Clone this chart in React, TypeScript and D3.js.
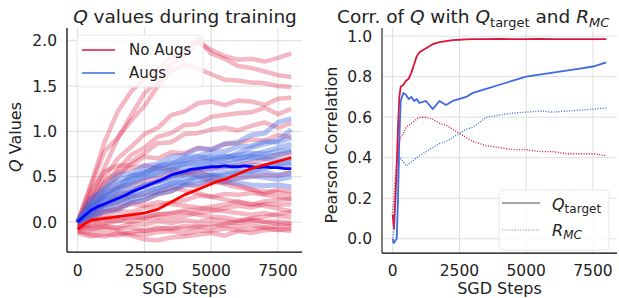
import * as d3 from "d3";

// ---- data ----
const runSteps = [0, 500, 1000, 1500, 2000, 2500, 3000, 3500, 4000, 4500, 5000, 5500, 6000, 6500, 7000, 7500, 8000];
const meanSteps = [0, 250, 500, 750, 1000, 1250, 1500, 1750, 2000, 2250, 2500, 2750, 3000, 3250, 3500, 3750, 4000,
  4250, 4500, 4750, 5000, 5250, 5500, 5750, 6000, 6250, 6500, 6750, 7000, 7250, 7500, 7750, 8000];

const noAugsRuns = [
  [0.0, 0.28, 0.6, 0.92, 1.18, 1.42, 1.56, 1.74, 1.84, 1.98, 1.9, 1.83, 1.79, 1.8, 1.77, 1.81, 1.86],
  [0.0, 0.4, 0.78, 0.93, 1.12, 1.28, 1.5, 1.66, 1.74, 1.69, 1.63, 1.57, 1.56, 1.54, 1.53, 1.5, 1.49],
  [0.0, 0.24, 0.5, 0.7, 0.83, 0.97, 1.04, 1.18, 1.22, 1.31, 1.33, 1.29, 1.34, 1.33, 1.29, 1.36, 1.37],
  [-0.02, 0.2, 0.42, 0.58, 0.74, 0.82, 0.94, 0.98, 1.07, 1.08, 1.16, 1.18, 1.2, 1.21, 1.26, 1.19, 1.25],
  [0.0, 0.16, 0.36, 0.5, 0.66, 0.76, 0.87, 0.88, 0.97, 0.98, 1.02, 1.04, 1.01, 1.06, 1.1, 1.04, 1.09],
  [0.0, 0.34, 0.56, 0.62, 0.63, 0.72, 0.7, 0.77, 0.76, 0.82, 0.8, 0.86, 0.87, 0.91, 0.9, 0.96, 0.94],
  [-0.05, 0.04, 0.12, 0.14, 0.22, 0.24, 0.31, 0.34, 0.41, 0.39, 0.46, 0.44, 0.49, 0.5, 0.52, 0.51, 0.56],
  [0.0, 0.06, 0.07, 0.12, 0.11, 0.16, 0.17, 0.22, 0.24, 0.29, 0.28, 0.31, 0.3, 0.32, 0.31, 0.36, 0.34],
  [-0.05, -0.02, 0.01, 0.01, 0.06, 0.04, 0.09, 0.09, 0.13, 0.14, 0.17, 0.19, 0.23, 0.19, 0.23, 0.24, 0.26],
  [-0.05, -0.06, -0.04, -0.06, -0.02, -0.03, 0.01, -0.01, 0.02, 0.0, 0.03, 0.01, -0.01, 0.02, 0.0, 0.01, -0.01],
  [-0.1, -0.11, -0.08, -0.1, -0.13, -0.14, -0.11, -0.1, -0.13, -0.09, -0.1, -0.07, -0.09, -0.08, -0.06, -0.09, -0.07],
  [-0.05, 0.01, 0.04, 0.06, 0.04, 0.07, 0.08, 0.1, 0.11, 0.08, 0.06, 0.05, 0.02, 0.03, 0.0, -0.02, -0.02],
  [0.0, 0.11, 0.19, 0.31, 0.34, 0.41, 0.44, 0.51, 0.53, 0.57, 0.59, 0.61, 0.63, 0.66, 0.69, 0.74, 0.76],
  [-0.1, -0.14, -0.16, -0.12, -0.15, -0.19, -0.2, -0.17, -0.16, -0.14, -0.12, -0.15, -0.1, -0.12, -0.09, -0.08, -0.1],
  [0.0, 0.16, 0.29, 0.39, 0.41, 0.46, 0.49, 0.53, 0.54, 0.56, 0.51, 0.46, 0.41, 0.36, 0.34, 0.33, 0.3],
  [0.0, 0.42, 0.88, 1.22, 1.44, 1.58, 1.68, 1.82, 1.9, 2.02, 1.86, 1.8, 1.72, 1.7, 1.66, 1.62, 1.6],
  [-0.02, 0.08, 0.18, 0.22, 0.28, 0.3, 0.33, 0.38, 0.35, 0.32, 0.28, 0.25, 0.22, 0.2, 0.18, 0.15, 0.12],
  [0.0, 0.25, 0.45, 0.55, 0.6, 0.62, 0.6, 0.58, 0.55, 0.5, 0.45, 0.42, 0.38, 0.36, 0.3, 0.28, 0.25],
  [-0.08, -0.04, -0.02, 0.02, 0.0, 0.03, 0.05, 0.04, 0.07, 0.1, 0.12, 0.15, 0.18, 0.16, 0.2, 0.19, 0.2],
  [-0.12, -0.16, -0.13, -0.15, -0.11, -0.09, -0.06, -0.08, -0.04, -0.05, -0.02, -0.04, -0.05, -0.03, -0.06, -0.04, -0.05],
  [0.0, 0.1, 0.12, 0.16, 0.2, 0.18, 0.22, 0.2, 0.18, 0.16, 0.14, 0.12, 0.1, 0.08, 0.1, 0.07, 0.05],
  [-0.06, -0.08, -0.05, -0.07, -0.06, -0.1, -0.08, -0.06, -0.08, -0.05, -0.06, -0.02, 0.01, 0.04, 0.06, 0.09, 0.11],
];

const augsRuns = [
  [0.0, 0.22, 0.38, 0.52, 0.54, 0.62, 0.64, 0.72, 0.74, 0.81, 0.8, 0.86, 0.88, 0.96, 0.98, 1.1, 1.14],
  [0.0, 0.14, 0.32, 0.38, 0.51, 0.53, 0.62, 0.64, 0.71, 0.73, 0.77, 0.78, 0.83, 0.84, 0.89, 0.88, 0.93],
  [0.0, 0.18, 0.26, 0.35, 0.42, 0.48, 0.55, 0.58, 0.65, 0.68, 0.72, 0.72, 0.74, 0.76, 0.75, 0.78, 0.8],
  [0.0, 0.1, 0.18, 0.22, 0.28, 0.32, 0.38, 0.42, 0.48, 0.5, 0.52, 0.55, 0.54, 0.56, 0.55, 0.52, 0.54],
  [0.0, 0.04, 0.11, 0.14, 0.21, 0.24, 0.31, 0.34, 0.41, 0.42, 0.46, 0.44, 0.43, 0.41, 0.4, 0.41, 0.39],
  [0.0, 0.12, 0.19, 0.26, 0.29, 0.36, 0.37, 0.43, 0.44, 0.51, 0.52, 0.49, 0.48, 0.51, 0.49, 0.47, 0.5],
  [0.0, 0.2, 0.3, 0.42, 0.47, 0.55, 0.6, 0.66, 0.68, 0.72, 0.7, 0.73, 0.7, 0.72, 0.7, 0.68, 0.7],
  [0.0, 0.16, 0.24, 0.3, 0.36, 0.4, 0.45, 0.5, 0.55, 0.6, 0.62, 0.64, 0.66, 0.7, 0.72, 0.74, 0.78],
  [0.0, 0.06, 0.14, 0.2, 0.24, 0.28, 0.33, 0.38, 0.42, 0.46, 0.5, 0.52, 0.55, 0.56, 0.6, 0.62, 0.64],
  [0.0, 0.26, 0.36, 0.46, 0.5, 0.56, 0.58, 0.62, 0.64, 0.66, 0.68, 0.7, 0.76, 0.82, 0.86, 0.9, 1.02],
  [0.0, 0.09, 0.22, 0.28, 0.33, 0.41, 0.44, 0.48, 0.52, 0.56, 0.58, 0.61, 0.6, 0.63, 0.62, 0.64, 0.66],
  [0.0, 0.15, 0.28, 0.36, 0.44, 0.5, 0.52, 0.57, 0.6, 0.62, 0.66, 0.67, 0.7, 0.74, 0.78, 0.82, 0.86],
];

const augsMean = [0.0, 0.07, 0.13, 0.17, 0.2, 0.23, 0.26, 0.29, 0.33, 0.36, 0.39, 0.42, 0.45, 0.48, 0.52, 0.54, 0.56,
  0.58, 0.59, 0.6, 0.61, 0.61, 0.62, 0.61, 0.61, 0.62, 0.61, 0.6, 0.61, 0.6, 0.6, 0.59, 0.59];
const noAugsMean = [-0.08, -0.02, 0.02, 0.03, 0.04, 0.05, 0.06, 0.07, 0.08, 0.09, 0.1, 0.12, 0.14, 0.18, 0.22, 0.26, 0.3,
  0.33, 0.36, 0.39, 0.42, 0.45, 0.47, 0.5, 0.53, 0.56, 0.59, 0.61, 0.63, 0.65, 0.67, 0.69, 0.71];

const corrSteps = [0, 50, 100, 150, 200, 250, 300, 400, 500, 600, 700, 800, 900, 1000, 1250, 1500, 1750, 2000, 2250,
  2500, 2750, 3000, 3500, 4000, 4500, 5000, 5500, 6000, 6500, 7000, 7500, 8000];
const qTargetNoAugs = [0.12, 0.05, 0.2, 0.35, 0.55, 0.7, 0.75, 0.76, 0.78, 0.79, 0.82, 0.86, 0.9, 0.92, 0.94, 0.96, 0.97,
  0.975, 0.98, 0.982, 0.984, 0.985, 0.985, 0.986, 0.985, 0.985, 0.986, 0.985, 0.985, 0.985, 0.985, 0.985];
const qTargetAugs = [0.0, -0.02, -0.01, 0.0, 0.2, 0.5, 0.68, 0.72, 0.71, 0.69, 0.7, 0.68, 0.69, 0.67, 0.68, 0.64, 0.68,
  0.66, 0.68, 0.69, 0.7, 0.72, 0.74, 0.76, 0.78, 0.8, 0.81, 0.82, 0.83, 0.84, 0.85, 0.87];
const rmcNoAugs = [0.13, 0.2, 0.3, 0.38, 0.45, 0.48, 0.5, 0.52, 0.55, 0.56, 0.57, 0.58, 0.59, 0.6, 0.6, 0.59, 0.57,
  0.56, 0.54, 0.52, 0.5, 0.48, 0.46, 0.45, 0.44, 0.44, 0.43, 0.43, 0.42, 0.42, 0.42, 0.41];
const rmcAugs = [-0.02, 0.05, 0.15, 0.25, 0.33, 0.38, 0.4, 0.38, 0.36, 0.37, 0.38, 0.39, 0.4, 0.41, 0.43, 0.45, 0.47,
  0.48, 0.5, 0.52, 0.54, 0.55, 0.6, 0.61, 0.62, 0.625, 0.63, 0.625, 0.63, 0.635, 0.64, 0.645];

const xTicks = [0, 2500, 5000, 7500];
const qTicks = [0.0, 0.5, 1.0, 1.5, 2.0];
const corrTicks = [0.0, 0.2, 0.4, 0.6, 0.8, 1.0];

const CRIMSON = "#dc143c";
const ROYAL = "#4169e1";
const FONT = "DejaVu Sans, sans-serif";

const App = () => {
  // left panel scales
  const xL = d3.scaleLinear().domain([-400, 8400]).range([67, 302]);
  const yL = d3.scaleLinear().domain([-0.33, 2.14]).range([252, 28]);
  // right panel scales
  const xR = d3.scaleLinear().domain([-400, 8400]).range([382, 617]);
  const yR = d3.scaleLinear().domain([-0.07, 1.04]).range([253, 28]);

  const lineL = (steps: number[]) =>
    d3.line<number>().x((_, i) => xL(steps[i])).y((d) => yL(d));
  const lineR = (steps: number[]) =>
    d3.line<number>().x((_, i) => xR(steps[i])).y((d) => yR(d));

  const grid = "#dedede";

  return (
    <svg width={619} height={298} style={{ display: "block", position: "absolute", left: 0, top: 0 }} fontFamily={FONT}>
      <defs>
        <clipPath id="clipL"><rect x={67} y={28} width={235} height={224} /></clipPath>
        <clipPath id="clipR"><rect x={382} y={28} width={235} height={225} /></clipPath>
      </defs>

      {/* ---- left panel ---- */}
      {xTicks.map((t) => (
        <line key={"gxl" + t} x1={xL(t)} x2={xL(t)} y1={28} y2={252} stroke={grid} />
      ))}
      {qTicks.map((t) => (
        <line key={"gyl" + t} x1={67} x2={302} y1={yL(t)} y2={yL(t)} stroke={grid} />
      ))}
      <g clipPath="url(#clipL)" fill="none" strokeLinejoin="round">
        {noAugsRuns.map((r, i) => (
          <path key={"n" + i} d={lineL(runSteps)(r) || ""} stroke={CRIMSON} strokeOpacity={0.3} strokeWidth={4.5} />
        ))}
        {augsRuns.map((r, i) => (
          <path key={"a" + i} d={lineL(runSteps)(r) || ""} stroke={ROYAL} strokeOpacity={0.4} strokeWidth={5} />
        ))}
        <path d={lineL(meanSteps)(augsMean) || ""} stroke="#0000ff" strokeWidth={2.8} />
        <path d={lineL(meanSteps)(noAugsMean) || ""} stroke="#ff0000" strokeWidth={2.8} />
      </g>
      <line x1={67} x2={67} y1={28} y2={252} stroke="#000" strokeWidth={1.25} />
      <line x1={67} x2={302} y1={252} y2={252} stroke="#000" strokeWidth={1.25} />
      {qTicks.map((t) => (
        <text key={"tyl" + t} x={57} y={yL(t)} dy="0.36em" textAnchor="end" fontSize={15.5} fill="#222">
          {d3.format(".1f")(t)}
        </text>
      ))}
      {xTicks.map((t) => (
        <text key={"txl" + t} x={xL(t)} y={276} textAnchor="middle" fontSize={15.5} fill="#222">{t}</text>
      ))}
      <text x={184.5} y={294} textAnchor="middle" fontSize={16} fill="#222">SGD Steps</text>
      <text transform="translate(21,137) rotate(-90)" textAnchor="middle" fontSize={16} fill="#222">
        <tspan fontStyle="italic">Q</tspan> Values
      </text>
      <text x={185} y={23} textAnchor="middle" fontSize={18.5} fill="#222">
        <tspan fontStyle="italic">Q</tspan> values during training
      </text>
      {/* left legend */}
      <rect x={77} y={35} width={126} height={52} rx={3} fill="#fff" fillOpacity={0.8} stroke="#e6e6e6" />
      <line x1={82} x2={115} y1={50} y2={50} stroke={CRIMSON} strokeWidth={1.5} />
      <line x1={82} x2={115} y1={73} y2={73} stroke={ROYAL} strokeWidth={1.5} />
      <text x={129} y={55} fontSize={15} fill="#222">No Augs</text>
      <text x={129} y={78} fontSize={15} fill="#222">Augs</text>

      {/* ---- right panel ---- */}
      {xTicks.map((t) => (
        <line key={"gxr" + t} x1={xR(t)} x2={xR(t)} y1={28} y2={253} stroke={grid} />
      ))}
      {corrTicks.map((t) => (
        <line key={"gyr" + t} x1={382} x2={617} y1={yR(t)} y2={yR(t)} stroke={grid} />
      ))}
      <g clipPath="url(#clipR)" fill="none" strokeLinejoin="round">
        <path d={lineR(corrSteps)(qTargetNoAugs) || ""} stroke={CRIMSON} strokeWidth={1.8} />
        <path d={lineR(corrSteps)(qTargetAugs) || ""} stroke={ROYAL} strokeWidth={1.8} />
        <path d={lineR(corrSteps)(rmcNoAugs) || ""} stroke={CRIMSON} strokeWidth={1.4} strokeDasharray="1 1.6" />
        <path d={lineR(corrSteps)(rmcAugs) || ""} stroke={ROYAL} strokeWidth={1.4} strokeDasharray="1 1.6" />
      </g>
      <line x1={382} x2={382} y1={28} y2={253} stroke="#333" strokeWidth={1.25} />
      <line x1={382} x2={617} y1={253} y2={253} stroke="#000" strokeWidth={1.25} />
      {corrTicks.map((t) => (
        <text key={"tyr" + t} x={372} y={yR(t)} dy="0.36em" textAnchor="end" fontSize={15.5} fill="#222">
          {d3.format(".1f")(t)}
        </text>
      ))}
      {xTicks.map((t) => (
        <text key={"txr" + t} x={xR(t)} y={276} textAnchor="middle" fontSize={15.5} fill="#222">{t}</text>
      ))}
      <text x={499.5} y={294} textAnchor="middle" fontSize={16} fill="#222">SGD Steps</text>
      <text transform="translate(337,145) rotate(-90)" textAnchor="middle" fontSize={16} fill="#222">
        Pearson Correlation
      </text>
      <text x={337} y={23} fontSize={18.5} fill="#222">
        Corr. of <tspan fontStyle="italic">Q</tspan> with <tspan fontStyle="italic">Q</tspan>
        <tspan fontSize={13} dy={4}>target</tspan>
        <tspan dy={-4}> and </tspan>
        <tspan fontStyle="italic">R</tspan>
        <tspan fontStyle="italic" fontSize={13} dy={4}>MC</tspan>
      </text>
      {/* right legend */}
      <rect x={499} y={190} width={110} height={60} rx={3} fill="#fff" fillOpacity={0.8} stroke="#e6e6e6" />
      <line x1={502} x2={540} y1={203} y2={203} stroke="#888" strokeWidth={1.5} />
      <line x1={502} x2={540} y1={230} y2={230} stroke="#888" strokeWidth={1.2} strokeDasharray="1 1.6" />
      <text x={552} y={210} fontSize={16} fill="#222">
        <tspan fontStyle="italic">Q</tspan>
        <tspan fontSize={12} dy={3}>target</tspan>
      </text>
      <text x={552} y={236} fontSize={16} fill="#222">
        <tspan fontStyle="italic">R</tspan>
        <tspan fontStyle="italic" fontSize={12} dy={3}>MC</tspan>
      </text>
    </svg>
  );
};

export default App;
